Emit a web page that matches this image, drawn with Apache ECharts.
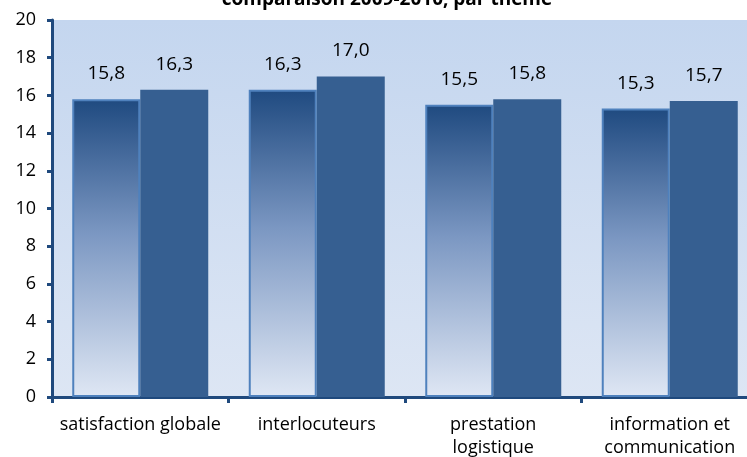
<!DOCTYPE html>
<html>
<head>
<meta charset="utf-8">
<script src="https://cdn.jsdelivr.net/npm/echarts@6/dist/echarts.min.js"></script>
<style>
  html, body { margin: 0; padding: 0; background: #fff; }
  #chart { width: 747px; height: 457px; }
</style>
</head>
<body>
<div id="chart"></div>
<script>
// themes (x axis)
var categories = ['satisfaction globale', 'interlocuteurs', 'prestation\nlogistique', 'information et\ncommunication'];
// 2009 / 2010 scores
var values2009 = [15.8, 16.3, 15.5, 15.3];
var values2010 = [16.3, 17.0, 15.8, 15.7];
var yTicks = [0, 2, 4, 6, 8, 10, 12, 14, 16, 18, 20];

var chart = echarts.init(document.getElementById('chart'));

function fmt(p) {
  return p.value.toFixed(1).replace('.', ',');
}

var labelStyle = {
  show: true,
  position: 'top',
  distance: 16,
  color: '#000',
  fontSize: 19,
  fontFamily: 'Open Sans',
  formatter: fmt
};

var option = {
  animation: false,
  title: {
    text: 'comparaison 2009-2010, par thème',
    left: 382,
    textAlign: 'center',
    top: -15,
    textStyle: { fontSize: 19, fontWeight: 'bold', color: '#000', fontFamily: 'Open Sans' }
  },
  grid: {
    left: 52,
    width: 706,
    top: 20,
    bottom: 60,
    outerBoundsMode: 'none',
    containLabel: false,
    show: true,
    borderWidth: 0,
    backgroundColor: new echarts.graphic.LinearGradient(0, 0, 0, 1, [
      { offset: 0, color: '#c4d6ef' },
      { offset: 1, color: '#dde6f4' }
    ])
  },
  xAxis: {
    type: 'category',
    data: categories,
    axisLine: { lineStyle: { color: '#1f497d', width: 3 } },
    axisTick: { show: true, length: 6, lineStyle: { color: '#1f497d', width: 3 } },
    axisLabel: {
      color: '#000',
      fontSize: 18,
      fontFamily: 'Open Sans',
      margin: 16,
      lineHeight: 23,
      interval: 0
    }
  },
  yAxis: {
    type: 'value',
    min: 0,
    max: 20,
    interval: 2,
    axisLine: { show: true, lineStyle: { color: '#1f497d', width: 3 } },
    axisTick: { show: true, length: 5, lineStyle: { color: '#1f497d', width: 3 } },
    splitLine: { show: false },
    axisLabel: {
      color: '#000',
      fontSize: 18,
      fontFamily: 'Open Sans',
      margin: 16,
      formatter: function (v) { return yTicks.indexOf(v) >= 0 ? String(v) : ''; }
    }
  },
  series: [
    {
      name: '2009',
      type: 'bar',
      data: values2009,
      barWidth: 68,
      barGap: '0%',
      itemStyle: {
        borderColor: '#4f81bd',
        borderWidth: 2,
        color: new echarts.graphic.LinearGradient(0, 0, 0, 1, [
          { offset: 0, color: '#1f4a80' },
          { offset: 0.45, color: '#7b97c2' },
          { offset: 1, color: '#dfe7f4' }
        ])
      },
      label: labelStyle
    },
    {
      name: '2010',
      type: 'bar',
      data: values2010,
      barWidth: 68,
      itemStyle: { color: '#365f91' },
      label: labelStyle
    }
  ]
};

chart.setOption(option);
</script>
</body>
</html>
